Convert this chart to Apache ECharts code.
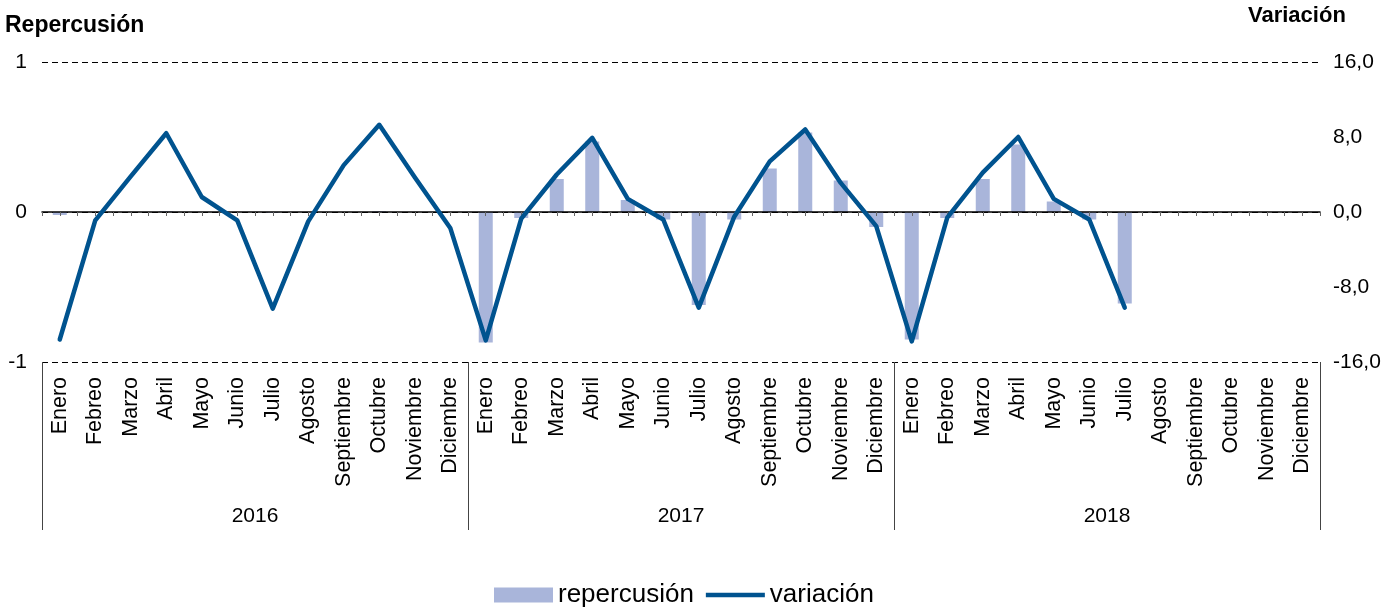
<!DOCTYPE html>
<html>
<head>
<meta charset="utf-8">
<script src="https://cdn.jsdelivr.net/npm/echarts@6/dist/echarts.min.js"></script>
<style>
  html, body { margin: 0; padding: 0; background: #fff; }
  #chart { width: 1399px; height: 610px; }
</style>
</head>
<body>
<div id="chart"></div>
<script>
var meses = ['Enero', 'Febreo', 'Marzo', 'Abril', 'Mayo', 'Junio', 'Julio', 'Agosto',
    'Septiembre', 'Octubre', 'Noviembre', 'Diciembre'];
var anos = ['2016', '2017', '2018'];

var repercusion = [
    -0.02, 0, 0, 0.005, 0, 0, -0.005, 0, 0, 0.005, 0, 0,
    -0.87, -0.04, 0.22, 0.47, 0.08, -0.05, -0.62, -0.05, 0.29, 0.53, 0.21, -0.10,
    -0.85, -0.04, 0.22, 0.45, 0.07, -0.05, -0.61, null, null, null, null, null
];
var variacion = [
    -13.6, -0.9, 3.8, 8.4, 1.6, -0.9, -10.3, -1.0, 5.0, 9.3, 3.7, -1.7,
    -13.7, -0.7, 4.0, 7.9, 1.4, -0.8, -10.2, -0.5, 5.4, 8.8, 3.1, -1.5,
    -13.8, -0.6, 4.2, 8.0, 1.4, -0.8, -10.2, null, null, null, null, null
];

// categorias: 12 meses por ano
var categorias = [];
anos.forEach(function () { meses.forEach(function (m) { categorias.push(m); }); });
// medios meses, solo para las marcas del eje cero
var medios = [];
for (var i = 0; i < categorias.length * 2; i++) medios.push('');

var fuente = "'Liberation Sans', Arial, sans-serif";

var chartDom = document.getElementById('chart');
var myChart = echarts.init(chartDom);
var option;

option = {
    animation: false,
    textStyle: { fontFamily: fuente, color: '#000' },
    title: [
        {
            text: 'Repercusión',
            left: 5, top: 14, padding: 0,
            textStyle: { fontFamily: fuente, fontSize: 23, fontWeight: 'bold', color: '#000' }
        },
        {
            text: 'Variación',
            left: 1248, top: 5, padding: 0,
            textStyle: { fontFamily: fuente, fontSize: 22, fontWeight: 'bold', color: '#000' }
        }
    ],
    legend: {
        data: [
            { name: 'repercusión', icon: 'rect' },
            { name: 'variación', icon: 'path://M0,0 L60,0 L60,4.5 L0,4.5 Z' }
        ],
        left: 494,
        top: 582,
        padding: 0,
        itemWidth: 59,
        itemHeight: 15,
        itemGap: 12,
        textStyle: { fontFamily: fuente, fontSize: 26, color: '#000' }
    },
    grid: {
        left: 42,
        right: 79,
        top: 62,
        bottom: 248,
        containLabel: false,
        outerBoundsMode: 'none'
    },
    xAxis: [
        {
            type: 'category',
            data: categorias,
            position: 'bottom',
            axisLine: { show: false, onZero: false },
            axisTick: { show: false },
            axisLabel: {
                interval: 0,
                rotate: 90,
                margin: 15,
                fontSize: 21.5,
                color: '#000',
                fontFamily: fuente
            }
        },
        {
            type: 'category',
            data: medios,
            position: 'bottom',
            z: 1.5,
            axisLine: { show: true, onZero: true, lineStyle: { color: '#000', width: 1.5 } },
            axisTick: { show: true, interval: 0, length: 4, lineStyle: { color: '#666' } },
            axisLabel: { show: false }
        },
        {
            type: 'category',
            data: anos,
            position: 'bottom',
            offset: 168,
            axisLine: { show: false, onZero: false },
            axisTick: { show: true, inside: true, interval: 0, length: 168, lineStyle: { color: '#444' } },
            axisLabel: { inside: true, margin: 3, fontSize: 21, color: '#000', fontFamily: fuente }
        }
    ],
    yAxis: [
        {
            type: 'value',
            min: -1,
            max: 1,
            interval: 1,
            axisLine: { show: false },
            axisTick: { show: false },
            axisLabel: { margin: 15, fontSize: 21, color: '#000', fontFamily: fuente },
            splitLine: { show: true, lineStyle: { color: '#000', type: [6, 4], width: 1 } }
        },
        {
            type: 'value',
            min: -16,
            max: 16,
            interval: 8,
            position: 'right',
            axisLine: { show: false },
            axisTick: { show: false },
            splitLine: { show: false },
            axisLabel: {
                margin: 13,
                fontSize: 21,
                color: '#000',
                fontFamily: fuente,
                formatter: function (v) { return v.toFixed(1).replace('.', ','); }
            }
        }
    ],
    series: [
        {
            name: 'repercusión',
            type: 'bar',
            xAxisIndex: 0,
            yAxisIndex: 0,
            z: 1,
            barWidth: 14,
            itemStyle: { color: '#A9B5DA' },
            data: repercusion
        },
        {
            name: 'variación',
            type: 'line',
            xAxisIndex: 0,
            yAxisIndex: 1,
            z: 3,
            symbol: 'none',
            smooth: false,
            lineStyle: { color: '#00538F', width: 4.5, join: 'round', cap: 'round' },
            itemStyle: { color: '#00538F' },
            data: variacion
        }
    ]
};

option && myChart.setOption(option);
</script>
</body>
</html>
